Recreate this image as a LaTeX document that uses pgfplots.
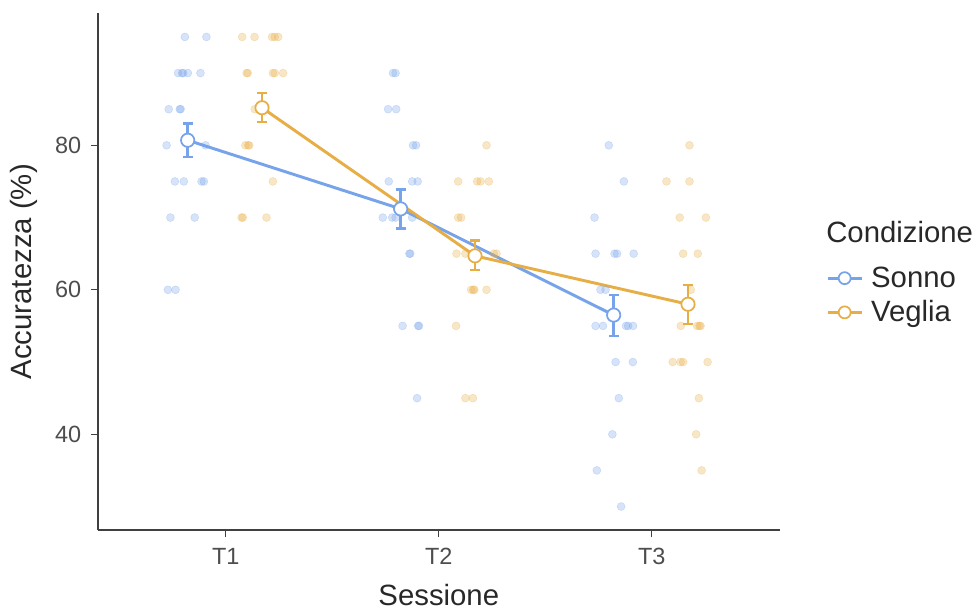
\documentclass[border=0pt]{standalone}
\usepackage{pgfplots}
\pgfplotsset{compat=1.18}
\usepackage{pgfplotstable}
\usepackage{fontspec}
\setmainfont{Liberation Sans}
\definecolor{sonno}{RGB}{118,163,234}
\definecolor{veglia}{RGB}{232,174,70}
\definecolor{axgray}{RGB}{77,77,77}
\definecolor{txt}{RGB}{40,40,40}

\pgfplotstableread{
x y
0.808 95
0.909 95
0.776 90
0.795 90
0.800 90
0.822 90
0.881 90
0.732 85
0.784 85
0.788 85
0.722 80
0.905 80
0.761 75
0.803 75
0.886 75
0.897 75
0.740 70
0.854 70
0.728 60
0.764 60
1.785 90
1.797 90
1.762 85
1.800 85
1.879 80
1.893 80
1.765 75
1.875 75
1.901 75
1.737 70
1.781 70
1.797 70
1.875 70
1.862 65
1.866 65
1.830 55
1.903 55
1.907 55
1.898 45
2.798 80
2.869 75
2.731 70
2.736 65
2.825 65
2.837 65
2.915 65
2.759 60
2.783 60
2.736 55
2.771 55
2.879 55
2.889 55
2.912 55
2.830 50
2.911 50
2.845 45
2.815 40
2.742 35
2.856 30
}\sonnopts

\pgfplotstableread{
x y
1.077 95
1.135 95
1.217 95
1.230 95
1.246 95
1.098 90
1.103 90
1.221 90
1.230 90
1.269 90
1.136 85
1.092 80
1.105 80
1.110 80
1.221 75
1.074 70
1.080 70
1.191 70
2.224 80
2.091 75
2.180 75
2.196 75
2.235 75
2.091 70
2.105 70
2.083 65
2.125 65
2.258 65
2.271 65
2.152 60
2.162 60
2.167 60
2.224 60
2.081 55
2.125 45
2.160 45
3.177 80
3.069 75
3.177 75
3.131 70
3.254 70
3.147 65
3.216 65
3.183 60
3.136 55
3.213 55
3.224 55
3.229 55
3.098 50
3.135 50
3.147 50
3.262 50
3.221 45
3.208 40
3.234 35
}\vegliapts

\pgfplotstableread{
x y ep em
0.821 80.7 2.3 2.3
1.821 71.2 2.7 2.7
2.821 56.5 2.8 2.9
}\sonnomean

\pgfplotstableread{
x y ep em
1.170 85.2 2.0 2.0
2.170 64.7 2.1 2.0
3.170 58.0 2.7 2.7
}\vegliamean

\begin{document}
\begin{tikzpicture}
\begin{axis}[
  at={(0,0)}, anchor=south west,
  scale only axis, width=511.2pt, height=387.4pt,
  xmin=0.4, xmax=3.6, ymin=26.75, ymax=98.25,
  axis lines=left,
  axis line style={-, line width=0.8pt, color=black!75},
  xtick={1,2,3}, xticklabels={T1,T2,T3},
  ytick={40,60,80},
  tick align=outside, major tick length=5.25pt,
  tick style={line width=0.8pt, color=black!75},
  tick label style={font=\fontsize{17.6}{20}\selectfont, color=axgray},
  xticklabel shift=4.75pt, yticklabel shift=3.75pt,
  /pgf/number format/assume math mode=true,
  xlabel={Sessione}, ylabel={Accuratezza (\%)},
  label style={font=\fontsize{22}{26}\selectfont, color=txt},
  xlabel style={at={(axis description cs:0.5,-0.146)}, anchor=base},
  ylabel style={at={(axis description cs:-0.1086,0.5)}, anchor=center},
  legend style={at={(1.068,0.515)}, anchor=north west, draw=none, fill=none,
    font=\fontsize{22}{26}\selectfont, text=txt, inner sep=0pt, row sep=4.5pt,
    /tikz/every odd column/.append style={column sep=4pt}},
  legend cell align=left,
  legend image code/.code={\draw[#1, mark repeat=2, mark phase=2] plot coordinates {(0pt,0pt) (12.75pt,0pt) (25.5pt,0pt)};},
]
% jittered points
\addplot[only marks, mark=*, mark size=3pt, mark options={draw=sonno, fill=sonno, opacity=0.3}, forget plot] table[x=x, y=y] {\sonnopts};
\addplot[only marks, mark=*, mark size=3pt, mark options={draw=veglia, fill=veglia, opacity=0.3}, forget plot] table[x=x, y=y] {\vegliapts};
% lines
\addplot[sonno, line width=2.2pt, forget plot] table[x=x, y=y] {\sonnomean};
\addplot[veglia, line width=2.2pt, forget plot] table[x=x, y=y] {\vegliamean};
% error bars
\addplot[only marks, mark=none, forget plot,
  error bars/.cd, y dir=both, y explicit,
  error bar style={draw=sonno, line width=1.8pt},
  error mark options={rotate=90, draw=sonno, line width=1.8pt, mark size=3.75pt}]
  table[x=x, y=y, y error plus=ep, y error minus=em] {\sonnomean};
\addplot[only marks, mark=none, forget plot,
  error bars/.cd, y dir=both, y explicit,
  error bar style={draw=veglia, line width=1.8pt},
  error mark options={rotate=90, draw=veglia, line width=1.8pt, mark size=3.75pt}]
  table[x=x, y=y, y error plus=ep, y error minus=em] {\vegliamean};
% mean markers
\addplot[only marks, mark=*, mark size=5pt, mark options={fill=white, draw=sonno, line width=1.3pt}, forget plot] table[x=x, y=y] {\sonnomean};
\addplot[only marks, mark=*, mark size=5pt, mark options={fill=white, draw=veglia, line width=1.3pt}, forget plot] table[x=x, y=y] {\vegliamean};
% legend
\addlegendimage{sonno, line width=2.2pt, mark=*, mark size=4.5pt, mark options={fill=white, draw=sonno, line width=1.3pt}}
\addlegendentry{Sonno}
\addlegendimage{veglia, line width=2.2pt, mark=*, mark size=4.5pt, mark options={fill=white, draw=veglia, line width=1.3pt}}
\addlegendentry{Veglia}
\end{axis}
\node[anchor=west, inner sep=0pt, font=\fontsize{22}{26}\selectfont, text=txt] at (546pt,223.5pt) {Condizione};
\pgfresetboundingbox
\path[use as bounding box] (-73.5pt,-61.5pt) rectangle (658.5pt,397.5pt);
\end{tikzpicture}
\end{document}
